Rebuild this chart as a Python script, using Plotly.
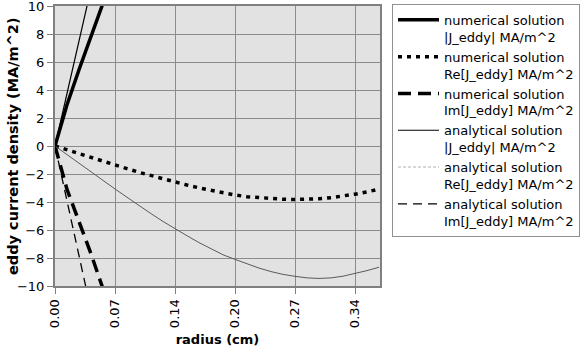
import plotly.graph_objects as go

# radius (cm) categories
radius = [0.0, 0.0135, 0.027, 0.0405, 0.054, 0.0675, 0.081, 0.0945, 0.108, 0.1215,
          0.135, 0.1485, 0.162, 0.1755, 0.189, 0.2025, 0.216, 0.2295, 0.243, 0.2565,
          0.27, 0.2835, 0.297, 0.3105, 0.324, 0.3375, 0.351, 0.3645]

num_abs = [0, 2.95, 5.45, 7.8, 10.2]
num_re = [0, -0.28, -0.55, -0.82, -1.08, -1.34, -1.62, -1.88, -2.12, -2.37,
          -2.59, -2.79, -2.99, -3.17, -3.35, -3.50, -3.62, -3.70, -3.76, -3.80,
          -3.82, -3.81, -3.77, -3.69, -3.58, -3.44, -3.28, -3.08]
num_im = [0, -3.1, -5.4, -7.7, -10.2]
ana_abs = [0, 3.75, 7.5, 11.25]
ana_re = [0, -0.62, -1.25, -1.88, -2.49, -3.07, -3.66, -4.27, -4.83, -5.39,
          -5.92, -6.41, -6.90, -7.36, -7.77, -8.10, -8.42, -8.72, -8.97, -9.17,
          -9.31, -9.42, -9.46, -9.42, -9.30, -9.12, -8.90, -8.66]
ana_im = [0, -3.92, -7.85, -11.75]

x_tickvals = [0.0, 0.0675, 0.135, 0.2025, 0.27, 0.3375]
x_ticktext = ["0.00", "0.07", "0.14", "0.20", "0.27", "0.34"]
y_tickvals = [-10, -8, -6, -4, -2, 0, 2, 4, 6, 8, 10]

names = [
    "numerical solution<br>|J_eddy| MA/m^2",
    "numerical solution<br>Re[J_eddy] MA/m^2",
    "numerical solution<br>Im[J_eddy] MA/m^2",
    "analytical solution<br>|J_eddy| MA/m^2",
    "analytical solution<br>Re[J_eddy] MA/m^2",
    "analytical solution<br>Im[J_eddy] MA/m^2",
]

FONT = "DejaVu Sans, Liberation Sans, Arial"

fig = go.Figure()
fig.add_trace(go.Scatter(x=radius[:len(num_abs)], y=num_abs, mode="lines", name=names[0],
                         line=dict(color="black", width=3.5)))
fig.add_trace(go.Scatter(x=radius, y=num_re, mode="lines", name=names[1],
                         line=dict(color="black", width=3.5, dash="4px,5px")))
fig.add_trace(go.Scatter(x=radius[:len(num_im)], y=num_im, mode="lines", name=names[2],
                         line=dict(color="black", width=3.5, dash="13px,7px")))
fig.add_trace(go.Scatter(x=radius[:len(ana_abs)], y=ana_abs, mode="lines", name=names[3],
                         line=dict(color="black", width=1.2)))
# analytical Re: drawn as thin gray line; legend entry shows light dashed style
fig.add_trace(go.Scatter(x=radius, y=ana_re, mode="lines", name=names[4], showlegend=False,
                         line=dict(color="#5a5a5a", width=1)))
fig.add_trace(go.Scatter(x=[None], y=[None], mode="lines", name=names[4],
                         line=dict(color="#b0b0b0", width=1, dash="3px,2px")))
fig.add_trace(go.Scatter(x=radius[:len(ana_im)], y=ana_im, mode="lines", name=names[5],
                         line=dict(color="black", width=1.3, dash="9px,6px")))

axis_common = dict(showgrid=True, gridcolor="#8c8c8c", gridwidth=1, zeroline=False,
                   showline=True, linecolor="#808080", linewidth=2, mirror=True,
                   ticks="outside", ticklen=6, tickcolor="#808080", automargin=False,
                   ticklabeloverflow="allow",
                   tickfont=dict(family=FONT, size=13, color="black"))

fig.update_xaxes(range=[0, 0.3656], tickvals=x_tickvals, ticktext=x_ticktext, tickangle=-90,
                 title=dict(text="<b>radius (cm)</b>", standoff=8,
                            font=dict(family=FONT, size=13, color="black")),
                 **axis_common)
fig.update_yaxes(range=[-10, 10], tickvals=y_tickvals, **axis_common)

fig.update_layout(
    width=587, height=359,
    margin=dict(l=55, r=207, t=5, b=73),
    paper_bgcolor="white", plot_bgcolor="#e2e2e2",
    showlegend=True,
    legend=dict(x=(392 - 55) / 325, y=1.004, xanchor="left", yanchor="top",
                bgcolor="white", bordercolor="#909090", borderwidth=1,
                font=dict(family=FONT, size=13, color="black"),
                valign="top", itemwidth=41, tracegroupgap=0, maxheight=320),
    font=dict(family=FONT, size=13, color="black"),
    annotations=[dict(text="<b>eddy current density (MA/m^2)</b>", textangle=-90,
                      xref="paper", yref="paper", x=(13 - 55) / 325, y=0.5,
                      xanchor="center", yanchor="middle", showarrow=False,
                      font=dict(family=FONT, size=14.5, color="black"))],
)

fig.write_html("out.html", config={"displayModeBar": False},
               post_script="document.body.style.margin='0';document.body.style.overflow='hidden';")
